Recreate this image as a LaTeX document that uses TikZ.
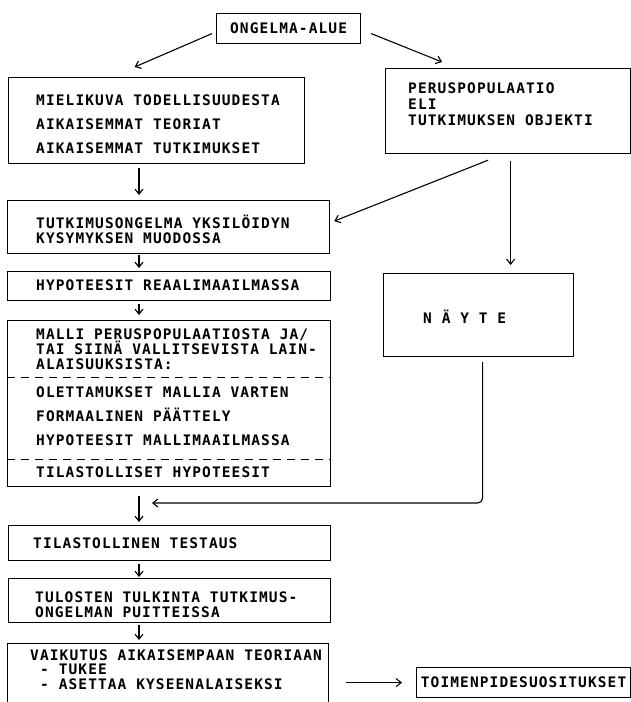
\documentclass[tikz,border=0pt]{standalone}
\usepackage{fontspec}
\newfontfamily\typewriter[LetterSpace=7.6]{DejaVu Sans Mono}
\newcommand{\diafont}{\typewriter\bfseries\fontsize{14.5}{15}\selectfont}
\usetikzlibrary{arrows.meta}
\tikzset{
        % Boxes
        node_box/.style={rectangle, draw=black, line width=1.2pt, anchor=north west, inner sep=0pt, align=center, font=\diafont},
        % Texts inside the boxes
        node_text/.style={align=left, anchor=west, inner sep=0pt, font=\diafont},
        % Dashed separators
        node_sep/.style={dash pattern=on 8pt off 6pt, line width=1pt},
        % Connectors
        conn/.style={->, line width=1.1pt}
}

\begin{document}
\begin{tikzpicture}[x=1pt, y=-1pt, >={Straight Barb[length=5pt,width=8pt]}]
    \useasboundingbox (0,0) rectangle (631,702);
    \coordinate (spine) at (139,0);
    \coordinate (merge) at (152,503);

    % Top
    \node[node_box, minimum width=144pt, minimum height=30pt] (ongelma) at (216,13) {ONGELMA-ALUE};

    % Left column
    \node[node_box, minimum width=296pt, minimum height=86pt] (mieli) at (8,77) {};
    \node[node_text] (mieli_txt) at (36,124) {MIELIKUVA TODELLISUUDESTA\\[9pt]AIKAISEMMAT TEORIAT\\[9pt]AIKAISEMMAT TUTKIMUKSET};

    \node[node_box, minimum width=322pt, minimum height=53pt] (tutk) at (7,200) {};
    \node[node_text] (tutk_txt) at (36,229.5) {TUTKIMUSONGELMA YKSILÖIDYN\\KYSYMYKSEN MUODOSSA};

    \node[node_box, minimum width=323pt, minimum height=29pt] (hypo) at (7,271) {};
    \node[node_text] (hypo_txt) at (36,285.5) {HYPOTEESIT REAALIMAAILMASSA};

    \node[node_box, minimum width=323pt, minimum height=166pt] (malli) at (7,320) {};
    \node[node_text] (malli_txt) at (36,349.5) {MALLI PERUSPOPULAATIOSTA JA/\\TAI SIINÄ VALLITSEVISTA LAIN-\\ALAISUUKSISTA:};
    \node[node_text] (oletus_txt) at (36,416) {OLETTAMUKSET MALLIA VARTEN\\[9pt]FORMAALINEN PÄÄTTELY\\[9pt]HYPOTEESIT MALLIMAAILMASSA};
    \node[node_text] (tilhyp_txt) at (36,472) {TILASTOLLISET HYPOTEESIT};
    \draw[node_sep] ([yshift=-57pt]malli.north west) -- ([yshift=-57pt]malli.north east);
    \draw[node_sep] ([yshift=-139pt]malli.north west) -- ([yshift=-139pt]malli.north east);

    \node[node_box, minimum width=322pt, minimum height=35pt] (testaus) at (8,525) {};
    \node[node_text] (testaus_txt) at (33,543) {TILASTOLLINEN TESTAUS};

    \node[node_box, minimum width=322pt, minimum height=44pt] (tulkinta) at (8,578) {};
    \node[node_text] (tulkinta_txt) at (35,604.5) {TULOSTEN TULKINTA TUTKIMUS-\\ONGELMAN PUITTEISSA};

    \node[node_box, minimum width=321pt, minimum height=65pt] (vaikutus) at (7,643) {};
    \node[node_text] (vaikutus_txt) at (30,669.5) {VAIKUTUS AIKAISEMPAAN TEORIAAN\\[-0.5pt]\hspace*{10pt}- TUKEE\\[-0.5pt]\hspace*{10pt}- ASETTAA KYSEENALAISEKSI};

    % Right column
    \node[node_box, minimum width=245pt, minimum height=85pt] (perus) at (385,68) {};
    \node[node_text] (perus_txt) at (408,104) {PERUSPOPULAATIO\\[1pt]ELI\\[1pt]TUTKIMUKSEN OBJEKTI};

    \node[node_box, minimum width=190pt, minimum height=83pt] (nayte) at (383,273) {};
    \node[node_text] (nayte_txt) at (423,317) {N Ä Y T E};

    \node[node_box, minimum width=214pt, minimum height=30pt] (toimen) at (416,667) {TOIMENPIDESUOSITUKSET};

    % Connectors
    \draw[conn] ([xshift=-4pt,yshift=-5pt]ongelma.west) -- ([xshift=-22pt,yshift=10pt]mieli.north);
    \draw[conn] ([xshift=10pt,yshift=-5pt]ongelma.east) -- ([xshift=-66pt,yshift=6pt]perus.north);
    \draw[conn, shorten <=4pt, shorten >=5pt] (mieli.south -| spine) -- (tutk.north -| spine);
    \draw[conn, shorten <=1pt, shorten >=3pt] (tutk.south -| spine) -- (hypo.north -| spine);
    \draw[conn, shorten <=3pt, shorten >=5pt] (hypo.south -| spine) -- (malli.north -| spine);
    \draw[conn, shorten <=9pt, shorten >=3pt] (malli.south -| spine) -- (testaus.north -| spine);
    \draw[conn, shorten <=3pt, shorten >=1pt] (testaus.south -| spine) -- (tulkinta.north -| spine);
    \draw[conn, shorten <=2pt, shorten >=3pt] (tulkinta.south -| spine) -- (vaikutus.north -| spine);
    \draw[conn, shorten <=17pt, shorten >=14pt] (toimen.west -| vaikutus.east) -- (toimen.west);
    \draw[conn] ([xshift=-20pt,yshift=-6pt]perus.south) -- ([xshift=4pt,yshift=6pt]tutk.east);
    \draw[conn, shorten <=7pt, shorten >=8pt] ([xshift=2.5pt]perus.south) -- ([xshift=2.5pt]perus.south |- nayte.north);
    \draw[conn, rounded corners=5pt, shorten <=5pt] ([xshift=4pt]nayte.south) |- (merge);
\end{tikzpicture}
\end{document}
